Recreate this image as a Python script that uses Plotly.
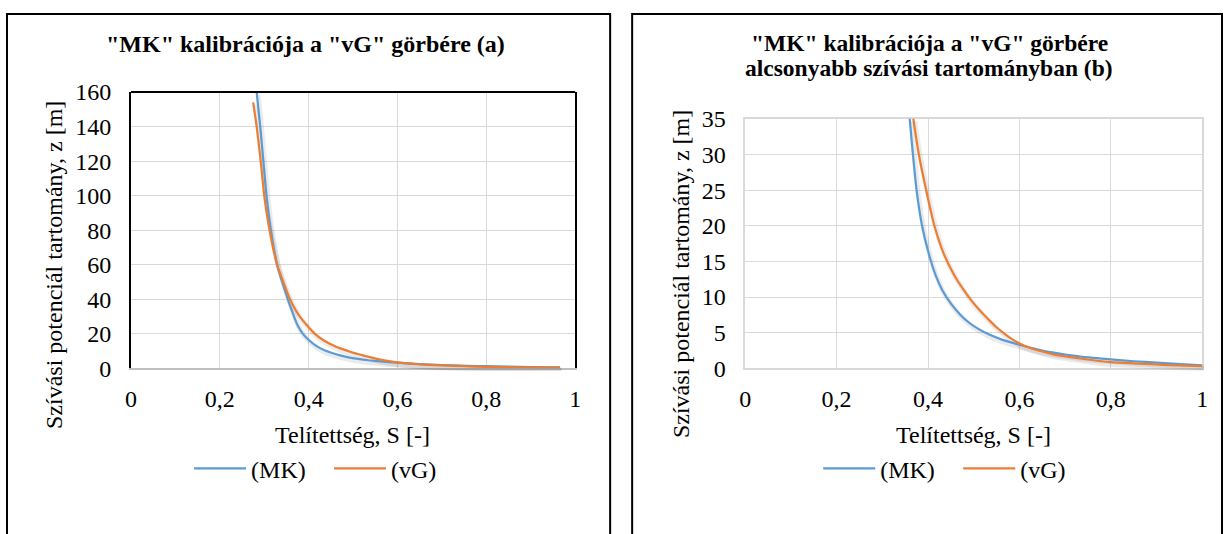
import plotly.graph_objects as go

# ---------------- data ----------------
# Chart (a): full suction range
S_MK_a = [0.281, 0.283, 0.291, 0.298, 0.305, 0.315, 0.329, 0.353, 0.360, 0.367,
          0.375, 0.387, 0.402, 0.417, 0.431, 0.451, 0.471, 0.490, 0.511, 0.535,
          0.563, 0.598, 0.650, 0.700, 0.757, 0.800, 0.850, 0.900, 0.966]
z_MK_a = [170, 160, 140, 120, 100, 80, 60, 40, 35, 30,
          25, 20, 16, 13, 11, 9, 7.5, 6.4, 5.5, 4.7,
          4.0, 3.35, 2.5, 1.95, 1.5, 1.26, 1.0, 0.8, 0.55]
S_vG_a = [0.275, 0.283, 0.292, 0.300, 0.312, 0.329, 0.358, 0.368, 0.380, 0.396,
          0.414, 0.435, 0.458, 0.478, 0.495, 0.515, 0.533, 0.549, 0.564, 0.581,
          0.600, 0.622, 0.648, 0.672, 0.697, 0.750, 0.800, 0.850, 0.900, 0.966]
z_vG_a = [154, 140, 120, 100, 80, 60, 40, 35, 30, 25,
          20, 16, 13, 11, 9.5, 8, 6.8, 5.8, 5.0, 4.2,
          3.5, 2.9, 2.4, 2.0, 1.72, 1.25, 0.88, 0.70, 0.56, 0.39]

# Chart (b): lower suction range
S_MK_b = [0.353, 0.360, 0.367, 0.375, 0.387, 0.402, 0.417, 0.431, 0.451, 0.471,
          0.490, 0.511, 0.535, 0.563, 0.598, 0.650, 0.700, 0.757, 0.800, 0.850,
          0.900, 0.952, 1.000]
z_MK_b = [40, 35, 30, 25, 20, 16, 13, 11, 9, 7.5,
          6.4, 5.5, 4.7, 4.0, 3.35, 2.5, 1.95, 1.5, 1.26, 1.0,
          0.8, 0.6, 0.42]
S_vG_b = [0.358, 0.368, 0.380, 0.396, 0.414, 0.435, 0.458, 0.478, 0.495, 0.515,
          0.533, 0.549, 0.564, 0.581, 0.600, 0.622, 0.648, 0.672, 0.697, 0.750,
          0.800, 0.850, 0.900, 0.930, 1.000]
z_vG_b = [40, 35, 30, 25, 20, 16, 13, 11, 9.5, 8,
          6.8, 5.8, 5.0, 4.2, 3.5, 2.9, 2.4, 2.0, 1.72, 1.25,
          0.88, 0.70, 0.56, 0.45, 0.33]

x_ticks = [0, 0.2, 0.4, 0.6, 0.8, 1]
y_ticks_a = [0, 20, 40, 60, 80, 100, 120, 140, 160]
y_ticks_b = [0, 5, 10, 15, 20, 25, 30, 35]

title_a = '"MK" kalibrációja a "vG" görbére (a)'
title_b_1 = '"MK" kalibrációja a "vG" görbére'
title_b_2 = 'alcsonyabb szívási tartományban (b)'
x_title = "Telítettség, S [-]"
y_title = "Szívási potenciál tartomány, z [m]"
names = ["(MK)", "(vG)"]

# ---------------- styling ----------------
W, H = 1229, 534
FONT = "Liberation Serif"
FS = 24
BLUE = "#5B9BD5"
ORANGE = "#ED7D31"
GRID = "#D9D9D9"
SHADOW = "rgba(0,0,0,0.08)"

# the photographed picture is slightly inset/scaled; map picture px -> page px
PAD_X, PAD_Y, SC_X, SC_Y = 6.0, 11.5, 0.990, 0.957


def px(t):
    return (t - PAD_X) / SC_X


def py(t):
    return (t - PAD_Y) / SC_Y


def fx(t):
    return min(max(px(t) / W, 0.0), 1.0)


def fy(t):
    return min(max(1 - py(t) / H, 0.0), 1.0)


# plot-area rectangles in picture pixels
A_X, A_Y = (131, 575), (369, 91)
B_X, B_Y = (745, 1202), (369, 118)
SH_DX, SH_DY = 1.5, 2.5  # soft drop shadow offset of the lines

fig = go.Figure()

# empty traces so that the two gridded subplots (xy, x2y2) are created first
for xa, ya in [("x", "y"), ("x2", "y2")]:
    fig.add_trace(go.Scatter(x=[], y=[], mode="lines", showlegend=False,
                             hoverinfo="skip", xaxis=xa, yaxis=ya))

# soft shadows (overlay axes offset by a couple of pixels, drawn under lines)
for sx, sz, xa, ya in [(S_MK_a, z_MK_a, "x3", "y3"), (S_vG_a, z_vG_a, "x3", "y3"),
                       (S_MK_b, z_MK_b, "x4", "y4"), (S_vG_b, z_vG_b, "x4", "y4")]:
    fig.add_trace(go.Scatter(x=sx, y=sz, mode="lines", showlegend=False,
                             hoverinfo="skip",
                             line=dict(color=SHADOW, width=5, shape="spline",
                                       smoothing=0.5),
                             xaxis=xa, yaxis=ya))

line_kw = dict(width=2.2, shape="spline", smoothing=0.5)
fig.add_trace(go.Scatter(x=S_MK_a, y=z_MK_a, mode="lines", name=names[0],
                         line=dict(color=BLUE, **line_kw), xaxis="x5", yaxis="y5",
                         legend="legend"))
fig.add_trace(go.Scatter(x=S_vG_a, y=z_vG_a, mode="lines", name=names[1],
                         line=dict(color=ORANGE, **line_kw), xaxis="x5", yaxis="y5",
                         legend="legend"))
fig.add_trace(go.Scatter(x=S_MK_b, y=z_MK_b, mode="lines", name=names[0],
                         line=dict(color=BLUE, **line_kw), xaxis="x6", yaxis="y6",
                         legend="legend2"))
fig.add_trace(go.Scatter(x=S_vG_b, y=z_vG_b, mode="lines", name=names[1],
                         line=dict(color=ORANGE, **line_kw), xaxis="x6", yaxis="y6",
                         legend="legend2"))

common_x = dict(range=[0, 1], tickvals=x_ticks, showgrid=True, gridcolor=GRID,
                gridwidth=1.3, zeroline=False, ticks="", ticklabelstandoff=8,
                tickfont=dict(family=FONT, size=FS, color="black"),
                fixedrange=True)
common_y = dict(showgrid=True, gridcolor=GRID, gridwidth=1.3, zeroline=False,
                ticks="", ticklabelstandoff=13,
                tickfont=dict(family=FONT, size=FS, color="black"),
                fixedrange=True)
hidden = dict(visible=False, fixedrange=True)

legend_common = dict(orientation="h", xanchor="left", yanchor="middle",
                     font=dict(family=FONT, size=FS), bgcolor="rgba(0,0,0,0)",
                     tracegroupgap=0, itemwidth=52, entrywidth=73,
                     entrywidthmode="pixels")

fig.update_layout(
    width=W, height=H,
    margin=dict(l=0, r=0, t=0, b=0),
    paper_bgcolor="white", plot_bgcolor="rgba(0,0,0,0)",
    separators=", ",
    font=dict(family=FONT, size=FS, color="black"),
    # visible axes with grid (chart a / chart b)
    xaxis=dict(domain=[fx(A_X[0]), fx(A_X[1])], anchor="y", showline=True,
               linecolor="#BFBFBF", linewidth=1.5, **common_x),
    yaxis=dict(domain=[fy(A_Y[0]), fy(A_Y[1])], anchor="x", range=[0, 160],
               tickvals=y_ticks_a, showline=True, mirror=True,
               linecolor="black", linewidth=2, **common_y),
    xaxis2=dict(domain=[fx(B_X[0]), fx(B_X[1])], anchor="y2", showline=True,
                mirror=True, linecolor=GRID, linewidth=1.5, **common_x),
    yaxis2=dict(domain=[fy(B_Y[0]), fy(B_Y[1])], anchor="x2", range=[0, 35],
                tickvals=y_ticks_b, showline=True, mirror=True,
                linecolor=GRID, linewidth=1.5, **common_y),
    # shadow axes (offset)
    xaxis3=dict(domain=[fx(A_X[0] + SH_DX), fx(A_X[1] + SH_DX)], anchor="y3",
                range=[0, 1], **hidden),
    yaxis3=dict(domain=[fy(A_Y[0] + SH_DY), fy(A_Y[1] + SH_DY)], anchor="x3",
                range=[0, 160], **hidden),
    xaxis4=dict(domain=[fx(B_X[0] + SH_DX), fx(B_X[1] + SH_DX)], anchor="y4",
                range=[0, 1], **hidden),
    yaxis4=dict(domain=[fy(B_Y[0] + SH_DY), fy(B_Y[1] + SH_DY)], anchor="x4",
                range=[0, 35], **hidden),
    # line axes (same place as the visible axes, drawn on top)
    xaxis5=dict(domain=[fx(A_X[0]), fx(A_X[1])], anchor="y5", range=[0, 1],
                **hidden),
    yaxis5=dict(domain=[fy(A_Y[0]), fy(A_Y[1])], anchor="x5", range=[0, 160],
                **hidden),
    xaxis6=dict(domain=[fx(B_X[0]), fx(B_X[1])], anchor="y6", range=[0, 1],
                **hidden),
    yaxis6=dict(domain=[fy(B_Y[0]), fy(B_Y[1])], anchor="x6", range=[0, 35],
                **hidden),
    legend=dict(x=fx(189), y=fy(470), **legend_common),
    legend2=dict(x=fx(818), y=fy(470), **legend_common),
    showlegend=True,
)


def note(text, x, y, angle=0, size=FS):
    return dict(text=text, x=fx(x), y=fy(y), xref="paper", yref="paper",
                showarrow=False, xanchor="center", yanchor="middle",
                textangle=angle,
                font=dict(family=FONT, size=size, color="black"))


annotations = [
    note("<b>" + title_a + "</b>", 305, 43),
    note("<b>" + title_b_1 + "</b>", 929, 42, size=23.5),
    note("<b>" + title_b_2 + "</b>", 929, 67, size=23.5),
    note(x_title, 352, 436),
    note(x_title, 973, 436),
    note(y_title, 54, 265, angle=-90),
    note(y_title, 681, 274, angle=-90),
]
fig.update_layout(annotations=annotations)

shapes = [
    # outer chart boxes
    dict(type="rect", xref="paper", yref="paper", x0=max(px(4), 1) / W,
         x1=px(610) / W, y0=-0.2, y1=1 - max(py(12), 1) / H,
         line=dict(color="black", width=2)),
    dict(type="rect", xref="paper", yref="paper", x0=px(632) / W,
         x1=min(px(1226), W - 1) / W, y0=-0.2, y1=1 - max(py(12), 1) / H,
         line=dict(color="black", width=2)),
    # black top edge of plot area (a)
    dict(type="line", xref="paper", yref="paper", x0=fx(A_X[0]), x1=fx(A_X[1]),
         y0=fy(A_Y[1]), y1=fy(A_Y[1]), line=dict(color="black", width=2)),
]
fig.update_layout(shapes=shapes)

fig.write_html(
    "out.html",
    config={"displayModeBar": False},
    post_script="document.body.style.margin='0';"
                "document.body.style.overflow='hidden';",
)
